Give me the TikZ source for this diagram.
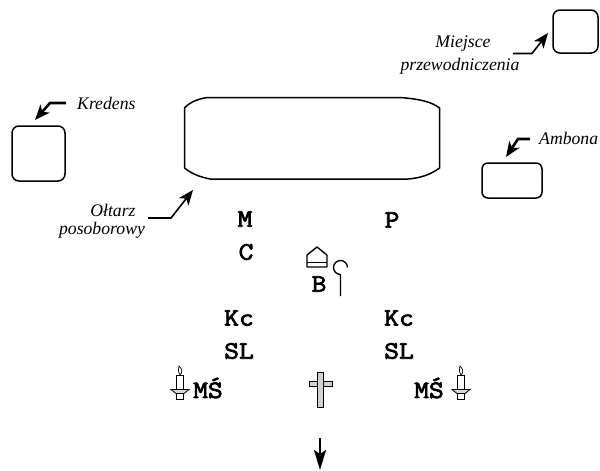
\documentclass[tikz,border=0pt]{standalone}
\usepackage{fontspec}
\setmainfont{Liberation Serif}
\newfontfamily\markfont[FakeBold=3,FakeStretch=1.15]{Latin Modern Mono}
\usetikzlibrary{arrows.meta}
\tikzset{
  mark letter/.style={font=\markfont\fontsize{25}{27}\selectfont, inner sep=0pt},
  caption/.style={font=\itshape\fontsize{17.7}{19}\selectfont, inner sep=0pt},
  furniture/.style={draw, line width=1.5pt, rounded corners=7pt, inner sep=0pt},
  pointer/.style={line width=1.6pt, -{Stealth[length=15pt,width=12pt,inset=4pt]}},
  thick pointer/.style={line width=2.6pt, -{Stealth[length=15pt,width=12pt,inset=4pt]}}
}
\begin{document}
\begin{tikzpicture}[x=1pt,y=-1pt]
\useasboundingbox (0,0) rectangle (600,471);

\draw [line width=1.5pt] (207,97.5) -- (400,97.5) .. controls (420,99) and (432,102) .. (439.5,108) -- (439.5,168) .. controls (430,175) and (420,178) .. (408,179) -- (210,179) .. controls (200,177) and (192,174) .. (184.5,168) -- (184.5,108) .. controls (190,102) and (198,99) .. (207,97.5) -- cycle;

\node [furniture, minimum width=53pt, minimum height=55pt] (kredens) at (38.5,153.5) {};
\node [furniture, minimum width=60pt, minimum height=35pt, rounded corners=6pt] (ambona) at (512,180.5) {};
\node [furniture, minimum width=45pt, minimum height=43pt] (krzeslo) at (575.5,31.5) {};

\node [caption] (miejsce) at (463,44) {Miejsce};
\node [caption] (przewodniczenia) at (460,66) {przewodniczenia};
\node [caption, anchor=west] (ambonatxt) at (539,138) {Ambona};
\node [caption, anchor=west] (kredenstxt) at (77,103) {Kredens};
\node [caption] (oltarz) at (113,210) {Ołtarz};
\node [caption] (posoborowy) at (102,230) {posoborowy};

\coordinate (a1) at (513,53.5);
\coordinate (a2) at (532,53.5);
\coordinate (a3) at (548,33);
\draw [pointer] (a1) -- (a2) -- (a3);
\coordinate (b1) at (530,139);
\coordinate (b2) at (518,139);
\coordinate (b3) at (506,157);
\draw [thick pointer] (b1) -- (b2) -- (b3);
\coordinate (c1) at (66,103);
\coordinate (c2) at (50,103);
\coordinate (c3) at (35,120);
\draw [thick pointer] (c1) -- (c2) -- (c3);
\coordinate (d1) at (148,218);
\coordinate (d2) at (171,218);
\coordinate (d3) at (193,190);
\draw [pointer] (d1) -- (d2) -- (d3);

\node [mark letter] (M) at (245,219) {M};
\node [mark letter] (P) at (392,220) {P};
\node [mark letter] (C) at (246,252) {C};
\node [mark letter] (B) at (319,284) {B};
\node [mark letter] (Kcl) at (239,318) {Kc};
\node [mark letter] (Kcr) at (399,318) {Kc};
\node [mark letter] (SLl) at (239,351) {SL};
\node [mark letter] (SLr) at (399,351) {SL};
\node [mark letter] (MSl) at (208,388) {MŚ};
\node [mark letter] (MSr) at (429,388) {MŚ};

% mitra i pastoral
\draw [line width=1.4pt, line join=round] (307,267) -- (307,255) -- (317,247) -- (327,255) -- (327,267) -- cycle;
\draw [line width=1pt] (307,262) -- (327,262);
\draw [line width=1.3pt] (347.5,267.5) arc [start angle=0, end angle=270, radius=7pt] -- (340.5,296);

% swiece
\foreach \x in {180,461}{
  \draw [line width=.8pt] (\x-3.5,375) rectangle (\x+3.5,390);
  \draw [line width=.7pt] (\x,375) .. controls (\x-2.5,371) and (\x-1.5,369) .. (\x-1,366) .. controls (\x+2.5,369) and (\x+2.5,373) .. (\x,375);
  \draw [line width=.8pt, fill=gray!30] (\x-9,389.5) -- (\x+9,389.5) -- (\x+4,393.5) -- (\x-4,393.5) -- cycle;
  \draw [line width=.8pt] (\x-3.5,393.5) rectangle (\x+3.5,399.5);
}

% krzyz
\draw [line width=.9pt, fill=gray!35] (309,381) rectangle (332,386);
\draw [line width=.9pt, fill=gray!35] (317,372) rectangle (323,407);

\coordinate (e1) at (320,438);
\coordinate (e2) at (320,470);
\draw [line width=2.8pt, -{Stealth[length=20pt,width=12pt,inset=4pt]}] (e1) -- (e2);
\end{tikzpicture}
\end{document}
